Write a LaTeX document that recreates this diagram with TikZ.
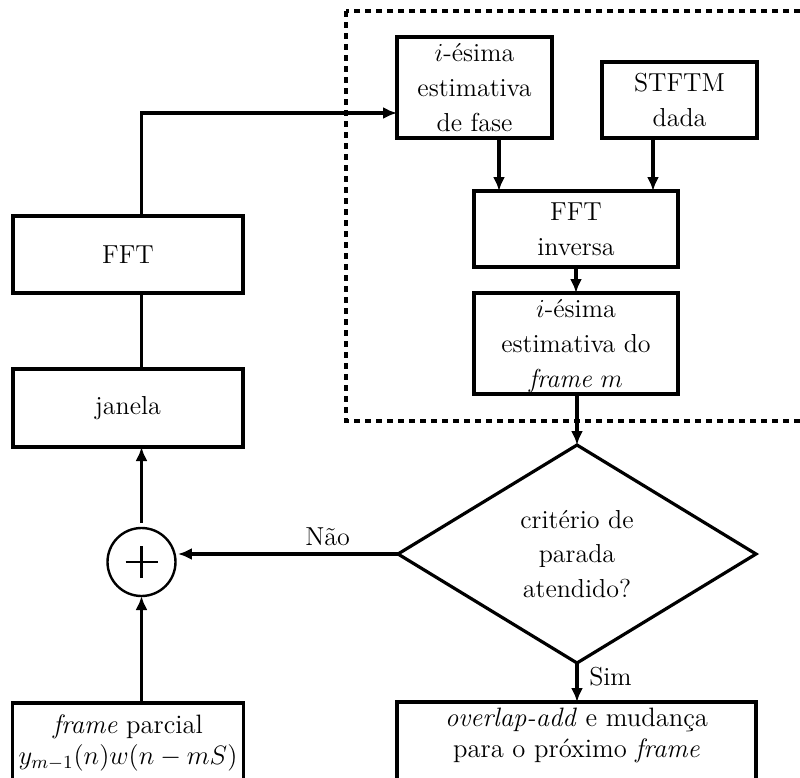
\RequirePackage{fix-cm}
\documentclass[tikz,border=0pt]{standalone}
\usepackage{fontspec}
\usetikzlibrary{shapes.geometric,arrows.meta}
\begin{document}
\begin{tikzpicture}[x=0.5pt,y=-0.5pt,
  every node/.style={font=\fontsize{13}{17.3}\selectfont},
  bigtext/.style={font=\fontsize{13.3}{15.5}\selectfont},
  blk/.style={draw, line width=1.6pt, rectangle, align=center, inner sep=0pt, outer sep=0pt},
  cond/.style={draw, diamond, line width=1.6pt, align=center, inner sep=0pt, outer sep=0pt, aspect=1.64},
  adder/.style={draw, circle, line width=1.2pt, inner sep=0pt, outer sep=0pt},
  arr/.style={line width=1.6pt, -{Latex[length=7pt,width=6pt]}},
  ln/.style={line width=1.6pt},
  frame/.style={line width=1.6pt, dash pattern=on 3pt off 2.5pt},
]
\useasboundingbox (0,0) rectangle (800,778);

% region holding the iteration
\draw[frame] (346,11) rectangle (812,421);

% left column
\node[blk, minimum width=115pt, minimum height=38.5pt] (fft) at (128,254.5) {FFT};
\node[blk, minimum width=115pt, minimum height=39pt] (jan) at (128,408) {janela};
\node[adder, minimum size=34pt] (sum) at (141.5,562) {};
\draw[line width=1.2pt] ([xshift=-8pt]sum.center) -- ([xshift=8pt]sum.center);
\draw[line width=1.2pt] ([yshift=-8pt]sum.center) -- ([yshift=8pt]sum.center);
\node[blk, bigtext, minimum width=115.5pt, anchor=north, inner ysep=6pt, text depth=40pt] (parc) at (128,703)
  {\emph{frame} parcial\\$y_{m-1}(n)w(n-mS)$};

% right column
\node[blk, minimum width=77.5pt, minimum height=50.5pt] (fase) at (474.5,87.5)
  {$i$-ésima\\estimativa\\de fase};
\node[blk, minimum width=77.5pt, minimum height=38pt] (stftm) at (679.5,100)
  {STFTM\\dada};
\node[blk, minimum width=102pt, minimum height=38pt] (ifft) at (576,229)
  {FFT\\inversa};
\node[blk, minimum width=102pt, minimum height=50.5pt, text depth=0pt] (est) at (576,343.5)
  {$i$-ésima\\estimativa do\\\emph{frame} $m$};
\node[cond, minimum width=179pt, minimum height=109pt] (dec) at (577,554)
  {critério de\\parada\\atendido?};
\node[blk, bigtext, minimum width=179.5pt, anchor=north, inner ysep=3pt, text depth=40pt] (ola) at (576.5,702)
  {\emph{overlap-add} e mudança\\para o próximo \emph{frame}};

% connectors
\coordinate (turn) at (141.5,113);
\draw[arr] (fft.north -| sum) -- (turn) -- (fase.west |- turn);
\draw[ln] (fft.south -| sum) -- (jan.north -| sum);
\draw[arr] ([yshift=2.5pt]sum.north) -- (jan.south -| sum);
\draw[arr] (parc.north -| sum) -- (sum.south);
\draw[arr] ([xshift=-38.5pt]ifft.north |- fase.south) -- ([xshift=-38.5pt]ifft.north);
\draw[arr] ([xshift=38.5pt]ifft.north |- stftm.south) -- ([xshift=38.5pt]ifft.north);
\draw[arr] (ifft.south) -- (est.north);
\draw[arr] (est.south -| dec) -- (dec.north);
\draw[arr] (dec.west) -- ([xshift=1.2pt]dec.west -| sum.east) node[pos=0.32, above] {Não};
\draw[arr] (dec.south) -- (dec.south |- ola.north) node[pos=0.35, right, xshift=2pt] {Sim};
\end{tikzpicture}
\end{document}
